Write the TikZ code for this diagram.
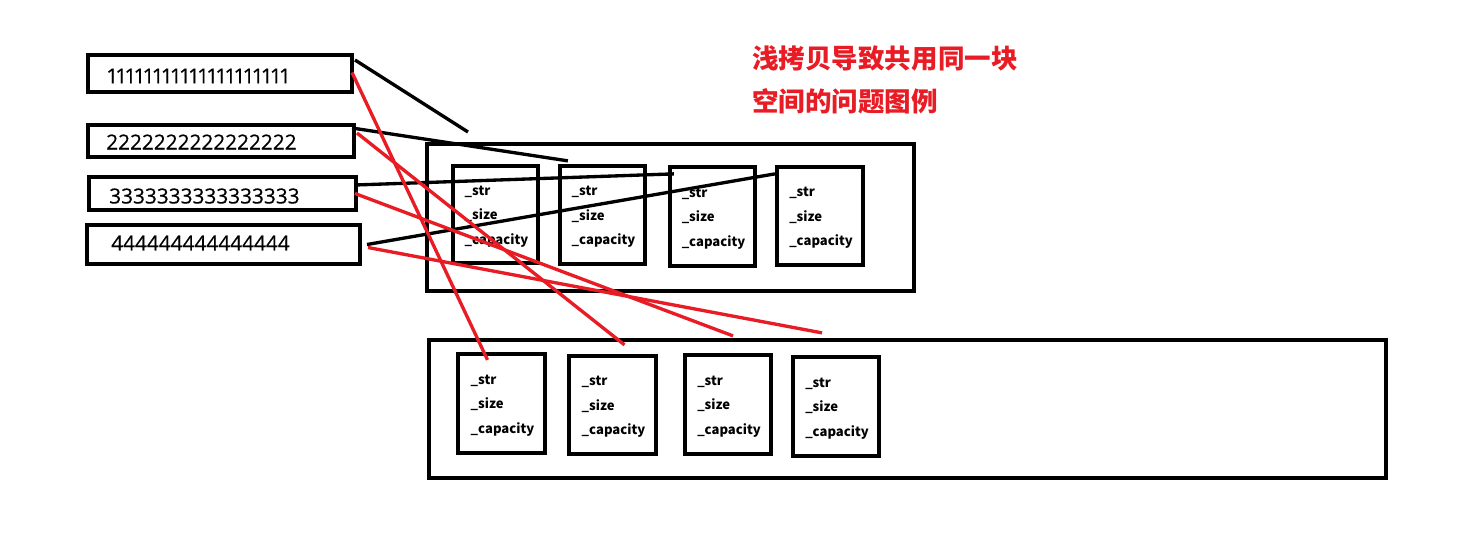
\documentclass[tikz,border=0pt]{standalone}
\usepackage{fontspec}
\setmainfont{Noto Sans CJK SC}
\newfontfamily\numfont[FakeBold=0.4]{Open Sans}
\newfontfamily\onefont[FakeBold=0.4,LetterSpace=-13.5]{Open Sans}
\usetikzlibrary{fit,calc}
\definecolor{myred}{RGB}{232,28,36}
\begin{document}
\begin{tikzpicture}[x=0.75pt,y=-0.75pt,
  strbox/.style={draw, line width=3pt, inner sep=0pt},
  strtext/.style={anchor=west, inner sep=0pt, font=\numfont\fontsize{15.6}{18}\selectfont},
  container/.style={draw, line width=2.6pt, inner sep=0pt},
  fieldbox/.style={draw, line width=3.2pt, inner sep=0pt},
  fieldtext/.style={inner sep=0pt, align=left,
    font=\bfseries\fontsize{9.8}{18.4}\selectfont},
  blk/.style={line width=2.5pt, black},
  rd/.style={line width=2.5pt, myred},
  title/.style={anchor=west, inner sep=0pt, text=myred, align=left,
    font=\bfseries\fontsize{19.9}{32}\selectfont}]
\useasboundingbox (0,0) rectangle (1463,536);

% string boxes
\node[strbox, fit={(88,55) (352,92)}] (s1) {};
\node[strbox, fit={(88,125) (354,157)}] (s2) {};
\node[strbox, fit={(89,177) (356,210)}] (s3) {};
\node[strbox, fit={(87,225) (360,264)}] (s4) {};
\node[strtext, font=\onefont\fontsize{15.6}{18}\selectfont] (t1) at (106,76) {11111111111111111111};
\node[strtext] (t2) at (106,142) {2222222222222222};
\node[strtext] (t3) at (109,196) {3333333333333333};
\node[strtext] (t4) at (111,243) {444444444444444};

% containers
\node[container, fit={(427,144) (914,291)}] (up) {};
\node[container, fit={(429,340) (1386,478)}] (low) {};

% upper field boxes
\node[fieldbox, fit={(453,166) (538,263)}] (a1) {};
\node[fieldbox, fit={(560,166) (645,264)}] (a2) {};
\node[fieldbox, fit={(670,167) (755,266)}] (a3) {};
\node[fieldbox, fit={(777,167) (863,265)}] (a4) {};
% lower field boxes
\node[fieldbox, fit={(458,354) (545,453)}] (b1) {};
\node[fieldbox, fit={(569,356) (656,454)}] (b2) {};
\node[fieldbox, fit={(685,355) (771,454)}] (b3) {};
\node[fieldbox, fit={(793,357) (879,456)}] (b4) {};

\foreach \b in {a1,a2,a3,a4,b1,b2,b3,b4}
  \node[fieldtext] (\b t) at ($(\b.center)+(1,2)$) {\_str\\\_size\\\_capacity};

% title
\node[title] (ttl) at (752,80) {浅拷贝导致共用同一块\\空间的问题图例};

% black connectors
\coordinate (e1) at (468,132);
\draw[blk] ($(s1.north east)+(1,7)$) -- (e1);
\draw[blk] ($(s2.north east)+(-4,5)$) -- ($(a2.north west)+(10,-3)$);
\draw[blk] ($(s3.north east)+(-3,10)$) -- ($(a3.north west)+(6,9)$);
\draw[blk] ($(s4.east)+(5,0)$) -- ($(a4.north west)+(0,9)$);

% red connectors
\draw[rd] ($(s1.east)+(-2,-1)$) -- ($(b1.north)+(-14,8)$);
\draw[rd] ($(s2.north east)+(1,10)$) -- ($(b2.north)+(12,-9)$);
\draw[rd] ($(s3.east)+(-3,0)$) -- ($(b3.north)+(5,-17)$);
\draw[rd] ($(s4.east)+(6,3)$) -- ($(b4.north)+(-14,-22)$);
\end{tikzpicture}
\end{document}
